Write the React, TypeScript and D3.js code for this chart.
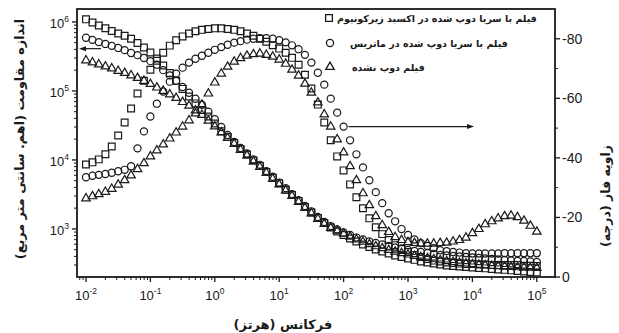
import React from "react";
import * as d3 from "d3";

// Measurement grid: 10 points per decade, 0.01 Hz to 100 kHz
const FREQ_HZ = [
  0.01, 0.0126, 0.0158, 0.02, 0.0251, 0.0316, 0.0398, 0.0501, 0.0631, 0.0794,
  0.1, 0.126, 0.158, 0.2, 0.251, 0.316, 0.398, 0.501, 0.631, 0.794,
  1, 1.26, 1.58, 2, 2.51, 3.16, 3.98, 5.01, 6.31, 7.94,
  10, 12.6, 15.8, 20, 25.1, 31.6, 39.8, 50.1, 63.1, 79.4,
  100, 126, 158, 200, 251, 316, 398, 501, 631, 794,
  1000, 1260, 1580, 2000, 2510, 3160, 3980, 5010, 6310, 7940,
  10000, 12600, 15800, 20000, 25100, 31600, 39800, 50100, 63100, 79400,
  100000,
];

// |Z| (ohm·cm²)
const Z_CERIA_IN_ZRO2 = [
  1.09e6, 9.8e5, 8.9e5, 8.1e5, 7.4e5, 6.8e5, 6.3e5, 5.7e5, 4.96e5, 4.27e5,
  3.61e5, 2.96e5, 2.34e5, 1.82e5, 1.4e5, 1.07e5, 8.3e4, 6.6e4, 5.3e4, 4.27e4,
  3.38e4, 2.6e4, 2.15e4, 1.76e4, 1.44e4, 1.2e4, 9.8e3, 8.2e3, 6.7e3, 5.5e3,
  4.6e3, 3.7e3, 3.1e3, 2.55e3, 2.08e3, 1.73e3, 1.44e3, 1.22e3, 1.05e3, 920,
  818, 728, 659, 596, 548, 504, 472, 442, 413, 393,
  374, 356, 338, 327, 316, 306, 296, 291, 286, 281,
  277, 272, 268, 263, 259, 255, 251, 246, 242, 238, 234,
];
const Z_CERIA_IN_MATRIX = [
  5.9e5, 5.5e5, 5.1e5, 4.8e5, 4.5e5, 4.2e5, 3.9e5, 3.55e5, 3.3e5, 3.0e5,
  2.7e5, 2.4e5, 2.0e5, 1.68e5, 1.4e5, 1.14e5, 9.4e4, 7.7e4, 6.3e4, 5.0e4,
  3.9e4, 3.0e4, 2.3e4, 1.82e4, 1.49e4, 1.24e4, 1.02e4, 8.5e3, 6.9e3, 5.7e3,
  4.7e3, 3.9e3, 3.2e3, 2.6e3, 2.15e3, 1.8e3, 1.49e3, 1.26e3, 1.1e3, 985,
  890, 820, 750, 705, 660, 625, 595, 567, 540, 522,
  497, 480, 465, 449, 435, 420, 413, 406, 399, 393,
  386, 380, 374, 368, 361, 355, 350, 344, 344, 338, 333,
];
const Z_UNDOPED = [
  2.77e5, 2.59e5, 2.42e5, 2.26e5, 2.12e5, 1.95e5, 1.82e5, 1.68e5, 1.54e5, 1.4e5,
  1.26e5, 1.12e5, 1.0e5, 8.9e4, 7.9e4, 6.9e4, 6.1e4, 5.2e4, 4.5e4, 3.7e4,
  3.06e4, 2.5e4, 2.08e4, 1.71e4, 1.4e4, 1.16e4, 9.5e3, 7.9e3, 6.5e3, 5.3e3,
  4.4e3, 3.6e3, 3.0e3, 2.46e3, 2.01e3, 1.68e3, 1.4e3, 1.18e3, 1.03e3, 940,
  850, 770, 705, 650, 600, 560, 525, 495, 468, 445,
  425, 405, 390, 376, 363, 351, 340, 331, 322, 315,
  308, 302, 297, 292, 288, 284, 281, 278, 275, 273, 271,
];

// Phase angle (degrees)
const PHASE_CERIA_IN_ZRO2 = [
  -37.8, -38.5, -39.5, -41.2, -43.8, -47.5, -51.9, -56.6, -61.6, -65.9,
  -69.6, -72.6, -75.3, -77.7, -79.5, -80.8, -81.8, -82.5, -83.0, -83.3,
  -83.5, -83.5, -83.3, -83.0, -82.5, -81.8, -81.0, -80.0, -79.0, -77.8,
  -76.7, -75.3, -73.6, -71.3, -67.9, -63.3, -57.9, -51.9, -45.9, -40.5,
  -35.8, -31.1, -26.8, -23.1, -19.7, -16.7, -14.4, -12.4, -10.7, -9.4,
  -8.4, -7.4, -6.7, -6.0, -5.5, -5.2, -4.9, -4.7, -4.5, -4.4,
  -4.4, -4.2, -4.2, -4.0, -4.0, -4.0, -4.0, -4.0, -3.8, -3.8, -3.7,
];
const PHASE_CERIA_IN_MATRIX = [
  -33.5, -34.0, -34.3, -34.6, -35.0, -35.5, -36.0, -37.2, -43.2, -48.9,
  -53.9, -58.2, -62.3, -65.6, -68.3, -70.3, -72.0, -73.3, -74.3, -75.3,
  -76.3, -77.2, -78.0, -78.7, -79.2, -79.7, -80.0, -80.2, -80.2, -80.0,
  -79.5, -78.8, -77.8, -76.5, -74.6, -72.0, -68.6, -64.6, -59.9, -55.2,
  -50.5, -45.9, -41.2, -36.8, -32.5, -28.5, -24.8, -21.4, -18.7, -16.1,
  -14.1, -12.6, -11.4, -10.4, -9.7, -9.0, -8.7, -8.4, -8.2, -8.0,
  -7.9, -7.9, -7.9, -7.9, -7.9, -8.0, -8.0, -8.0, -8.0, -8.0, -8.0,
];
const PHASE_UNDOPED = [
  -26.4, -27.1, -27.8, -28.6, -29.6, -31.0, -32.5, -34.1, -36.2, -38.2,
  -40.5, -42.5, -44.5, -46.5, -48.5, -50.5, -52.6, -54.9, -57.9, -61.6,
  -65.3, -68.3, -70.6, -72.3, -73.5, -74.3, -74.8, -75.0, -74.6, -74.0,
  -73.0, -71.6, -69.6, -67.6, -64.9, -61.9, -58.6, -54.6, -50.5, -46.2,
  -41.8, -37.2, -32.5, -28.1, -24.1, -20.4, -17.4, -15.1, -13.4, -12.4,
  -11.7, -11.4, -11.2, -11.2, -11.2, -11.4, -11.5, -11.9, -12.4, -13.2,
  -14.7, -16.1, -17.7, -18.7, -19.7, -20.4, -20.6, -20.1, -18.9, -17.2, -15.2,
];

const SERIES_LABELS = [
  "فیلم با سریا دوپ شده در اکسید زیرکونیوم",
  "فیلم با سریا دوپ شده در ماتریس",
  "فیلم دوپ نشده",
];
const X_TICK_EXPONENTS = [-2, -1, 0, 1, 2, 3, 4, 5];
const Z_TICK_EXPONENTS = [3, 4, 5, 6];
const PHASE_TICKS = [0, -20, -40, -60, -80];
const PHASE_MINOR_TICKS = [-10, -30, -50, -70];

const X_TITLE = "فرکانس (هرتز)";
const Z_TITLE = "اندازه مقاومت (اهم. سانتی متر مربع)";
const PHASE_TITLE = "زاویه فاز (درجه)";

const W = 619;
const H = 333;
const FRAME = { left: 77, right: 555, top: 9, bottom: 277 };
const INK = "#1a1a1a";
const NUM_FONT = "'Liberation Sans', Arial, sans-serif";
const FA_FONT = "'DejaVu Sans', sans-serif";

const SHAPES = [d3.symbolSquare, d3.symbolCircle, d3.symbolTriangle];
const SHAPE_SIZES = [46, 40, 31];

export default function App() {
  const x = d3
    .scaleLog()
    .domain([Math.pow(10, -2.1398), Math.pow(10, 5.2826)])
    .range([FRAME.left, FRAME.right]);
  const yZ = d3.scaleLog().domain([201, 1.54e6]).range([FRAME.bottom, FRAME.top]);
  const yP = d3.scaleLinear().domain([0, -90]).range([FRAME.bottom, FRAME.top]);

  const zSeries = [Z_CERIA_IN_ZRO2, Z_CERIA_IN_MATRIX, Z_UNDOPED];
  const pSeries = [PHASE_CERIA_IN_ZRO2, PHASE_CERIA_IN_MATRIX, PHASE_UNDOPED];

  const symbolPaths = SHAPES.map((t, i) => d3.symbol().type(t).size(SHAPE_SIZES[i])() as string);

  // minor ticks on the log axes
  const [xd0, xd1] = x.domain();
  const xMinor: number[] = [];
  for (let e = -3; e <= 5; e++) {
    for (let k = 2; k <= 9; k++) {
      const v = k * Math.pow(10, e);
      if (v > xd0 && v < xd1) xMinor.push(v);
    }
  }
  const [zd0, zd1] = yZ.domain();
  const zMinor: number[] = [];
  for (let e = 2; e <= 6; e++) {
    for (let k = 2; k <= 9; k++) {
      const v = k * Math.pow(10, e);
      if (v > zd0 && v < zd1) zMinor.push(v);
    }
  }

  const marks = (values: number[], scaleY: (v: number) => number, si: number, key: string) =>
    values.map((v, i) => (
      <path
        key={key + i}
        d={symbolPaths[si]}
        transform={`translate(${x(FREQ_HZ[i])},${scaleY(v)})`}
        fill="none"
        stroke={INK}
        strokeWidth={1.2}
      />
    ));

  const legendRows = [
    { y: 18, mx: 329, tx: 337 },
    { y: 43, mx: 330, tx: 350 },
    { y: 67, mx: 330, tx: 352 },
  ];

  const leftArrowY = yZ(4.1e5);
  const rightArrowY = yP(PHASE_CERIA_IN_MATRIX[40]);

  return (
    <svg
      width={W}
      height={H}
      viewBox={`0 0 ${W} ${H}`}
      style={{ position: "absolute", left: 0, top: 0, background: "#fff" }}
    >
      <rect x={0} y={0} width={W} height={H} fill="#fff" />

      {/* data */}
      <g>
        {zSeries.map((s, si) => marks(s, yZ, si, "z" + si))}
        {pSeries.map((s, si) => marks(s, yP, si, "p" + si))}
      </g>

      {/* frame */}
      <rect
        x={FRAME.left}
        y={FRAME.top}
        width={FRAME.right - FRAME.left}
        height={FRAME.bottom - FRAME.top}
        fill="none"
        stroke={INK}
        strokeWidth={1.8}
      />

      {/* bottom axis */}
      <g>
        {X_TICK_EXPONENTS.map((e) => {
          const px = x(Math.pow(10, e));
          return (
            <g key={"xt" + e}>
              <line x1={px} x2={px} y1={FRAME.bottom} y2={FRAME.bottom + 5} stroke={INK} strokeWidth={1.3} />
              <text x={px} y={300} textAnchor="middle" fontFamily={NUM_FONT} fontSize={13} fill={INK}>
                <tspan>10</tspan>
                <tspan dy={-6} fontSize={8.5}>{String(e)}</tspan>
              </text>
            </g>
          );
        })}
        {xMinor.map((v, i) => (
          <line key={"xm" + i} x1={x(v)} x2={x(v)} y1={FRAME.bottom} y2={FRAME.bottom + 3} stroke={INK} strokeWidth={1} />
        ))}
      </g>

      {/* left axis */}
      <g>
        {Z_TICK_EXPONENTS.map((e) => {
          const py = yZ(Math.pow(10, e));
          return (
            <g key={"zt" + e}>
              <line x1={FRAME.left - 5} x2={FRAME.left} y1={py} y2={py} stroke={INK} strokeWidth={1.3} />
              <text x={69} y={py + 6} textAnchor="end" fontFamily={NUM_FONT} fontSize={13} fill={INK}>
                <tspan>10</tspan>
                <tspan dy={-6} fontSize={8.5}>{String(e)}</tspan>
              </text>
            </g>
          );
        })}
        {zMinor.map((v, i) => (
          <line key={"zm" + i} x1={FRAME.left - 3} x2={FRAME.left} y1={yZ(v)} y2={yZ(v)} stroke={INK} strokeWidth={1} />
        ))}
      </g>

      {/* right axis */}
      <g>
        {PHASE_TICKS.map((t) => {
          const py = yP(t);
          return (
            <g key={"pt" + t}>
              <line x1={FRAME.right} x2={FRAME.right + 5} y1={py} y2={py} stroke={INK} strokeWidth={1.3} />
              <text x={562} y={py + 5} textAnchor="start" fontFamily={NUM_FONT} fontSize={14} fill={INK}>
                {String(t)}
              </text>
            </g>
          );
        })}
        {PHASE_MINOR_TICKS.map((t) => (
          <line key={"pm" + t} x1={FRAME.right} x2={FRAME.right + 3} y1={yP(t)} y2={yP(t)} stroke={INK} strokeWidth={1} />
        ))}
      </g>

      {/* axis titles */}
      <text x={283} y={329} textAnchor="middle" direction="rtl" fontFamily={FA_FONT} fontWeight="bold" fontSize={13} fill={INK}>
        {X_TITLE}
      </text>
      <text
        transform={`translate(24,139) rotate(-90)`}
        textAnchor="middle"
        direction="rtl"
        fontFamily={FA_FONT}
        fontWeight="bold"
        fontSize={12.8}
        fill={INK}
      >
        {Z_TITLE}
      </text>
      <text
        transform={`translate(610,196) rotate(-90)`}
        textAnchor="middle"
        direction="rtl"
        fontFamily={FA_FONT}
        fontWeight="bold"
        fontSize={12.5}
        fill={INK}
      >
        {PHASE_TITLE}
      </text>

      {/* legend */}
      {legendRows.map((r, i) => (
        <g key={"lg" + i}>
          <path d={symbolPaths[i]} transform={`translate(${r.mx},${r.y})`} fill="none" stroke={INK} strokeWidth={1.3} />
          <text x={r.tx} y={r.y + 4} textAnchor="end" direction="rtl" fontFamily={FA_FONT} fontWeight="bold" fontSize={9.5} fill={INK}>
            {SERIES_LABELS[i]}
          </text>
        </g>
      ))}

      {/* arrows pointing to the axis each family belongs to */}
      <g stroke={INK} strokeWidth={1.2} fill={INK}>
        <line x1={101} x2={84} y1={leftArrowY} y2={leftArrowY} />
        <path d={`M79,${leftArrowY} L86,${leftArrowY - 2.5} L86,${leftArrowY + 2.5} Z`} stroke="none" />
        <line x1={x(FREQ_HZ[40]) + 5} x2={468} y1={rightArrowY} y2={rightArrowY} />
        <path d={`M474,${rightArrowY} L467,${rightArrowY - 2.5} L467,${rightArrowY + 2.5} Z`} stroke="none" />
      </g>
    </svg>
  );
}
